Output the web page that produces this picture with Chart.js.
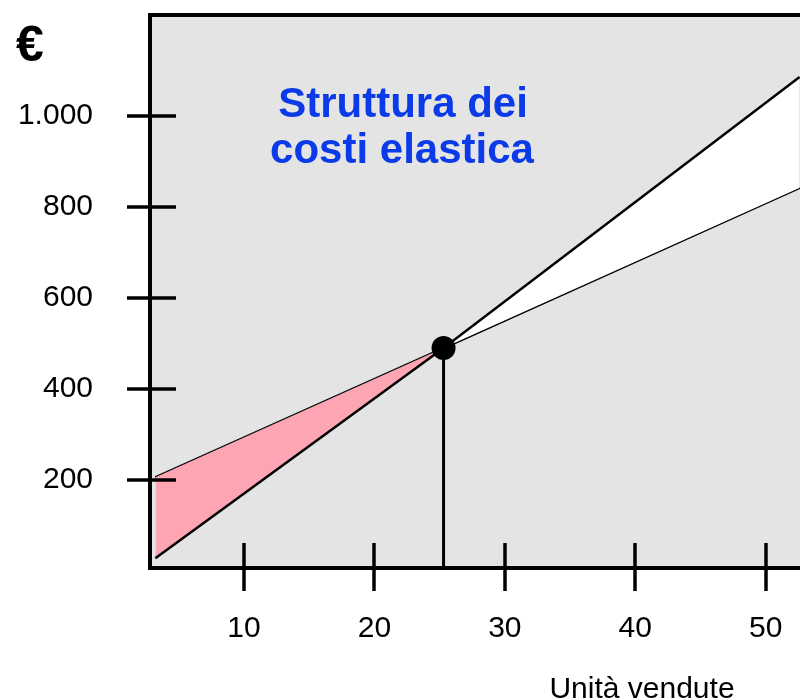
<!DOCTYPE html>
<html>
<head>
<meta charset="utf-8">
<script src="https://cdn.jsdelivr.net/npm/chart.js@4.4.1/dist/chart.umd.min.js"></script>
<style>
html,body{margin:0;padding:0;background:#fff;overflow:hidden;}
#wrap{width:800px;height:700px;position:relative;}
</style>
</head>
<body>
<div id="wrap"><canvas id="c" width="800" height="700"></canvas></div>
<script>
// Data
const unita = [3.2, 25.3, 52.6];          // units sold (x)
const ricavi = [28, 490, 1086];           // revenue line
const costi = [206, 490, 842];            // cost line
const pareggioX = 25.3;                   // break-even units
const pareggioY = 490;                    // break-even euro
const xTickValues = [10, 20, 30, 40, 50];
const yTickValues = [200, 400, 600, 800, 1000];
const xRange = [2.79, 52.63];
const yRange = [6.6, 1222];
const titleLines = ['Struttura dei', 'costi elastica'];
const xTitle = 'Unità vendute';
const yTitle = '€';

const FONT = '"Liberation Sans", Arial, sans-serif';
const PINK = '#fea5b4';
const GRAY = '#e4e4e4';

function fmt(v){ return v >= 1000 ? String(v).replace(/\B(?=(\d{3})+(?!\d))/g, '.') : String(v); }

const pts = (xs, ys) => xs.map((x, i) => ({x, y: ys[i]}));

const zeroPad = s => { s.paddingTop = 0; s.paddingBottom = 0; s.paddingLeft = 0; s.paddingRight = 0; };

const decor = {
  id: 'decor',
  beforeDraw(chart){
    const {ctx, chartArea: a} = chart;
    ctx.save();
    ctx.fillStyle = GRAY;
    ctx.fillRect(a.left, a.top, a.right - a.left, a.bottom - a.top);
    ctx.restore();
  },
  afterDraw(chart){
    const {ctx, chartArea: a, scales} = chart;
    ctx.save();
    ctx.strokeStyle = '#000';
    ctx.lineCap = 'butt';
    // frame: top, left, bottom
    ctx.lineWidth = 4;
    ctx.beginPath();
    ctx.moveTo(a.left, a.top); ctx.lineTo(a.right, a.top);
    ctx.moveTo(a.left, a.top - 2); ctx.lineTo(a.left, a.bottom + 2);
    ctx.moveTo(a.left - 2, a.bottom); ctx.lineTo(a.right, a.bottom);
    ctx.stroke();
    // tick marks crossing the axes
    ctx.lineWidth = 3.5;
    ctx.beginPath();
    scales.y.ticks.forEach(t => {
      const y = Math.round(scales.y.getPixelForValue(t.value));
      ctx.moveTo(a.left - 23, y); ctx.lineTo(a.left + 26, y);
    });
    scales.x.ticks.forEach(t => {
      const x = Math.round(scales.x.getPixelForValue(t.value));
      ctx.moveTo(x, a.bottom - 25); ctx.lineTo(x, a.bottom + 23);
    });
    ctx.stroke();
    // texts
    ctx.fillStyle = '#0b3be8';
    ctx.font = 'bold 42px ' + FONT;
    ctx.textAlign = 'center';
    ctx.textBaseline = 'alphabetic';
    ctx.fillText(titleLines[0], 403, 117);
    ctx.fillText(titleLines[1], 402, 163);
    ctx.fillStyle = '#000';
    ctx.font = '30px ' + FONT;
    ctx.fillText(xTitle, 642, 698);
    ctx.font = 'bold 50px ' + FONT;
    ctx.textAlign = 'left';
    ctx.fillText(yTitle, 16, 61);
    ctx.restore();
  }
};

new Chart(document.getElementById('c'), {
  type: 'scatter',
  data: {
    datasets: [
      { label: 'Costi', data: pts(unita, costi), showLine: true, borderColor: '#000', borderWidth: 2.5, pointRadius: 0, fill: false, order: 3 },
      { label: 'Ricavi', data: pts(unita, ricavi), showLine: true, borderColor: '#000', borderWidth: 2.5, pointRadius: 0,
        fill: { target: 0, above: '#ffffff', below: PINK }, order: 2 },
      { label: 'Pareggio', data: [{x: pareggioX, y: yRange[0]}, {x: pareggioX, y: pareggioY}], showLine: true, borderColor: '#000', borderWidth: 3, pointRadius: 0, fill: false, order: 1 },
      { label: 'Punto', data: [{x: pareggioX, y: pareggioY}], pointRadius: 12, pointHoverRadius: 12, backgroundColor: '#000', borderColor: '#000', borderWidth: 0, order: 0 }
    ]
  },
  options: {
    responsive: false,
    animation: false,
    events: [],
    layout: { autoPadding: false, padding: { top: 15, right: 0, bottom: 0, left: 0 } },
    plugins: { legend: { display: false }, tooltip: { enabled: false }, title: { display: false } },
    scales: {
      x: {
        type: 'linear', min: xRange[0], max: xRange[1],
        border: { display: false },
        grid: { display: false },
        afterBuildTicks: s => { s.ticks = xTickValues.map(v => ({value: v})); },
        afterFit: s => { s.height = 132; zeroPad(s); },
        ticks: { color: '#000', font: { family: FONT, size: 30 }, padding: 35, maxRotation: 0, autoSkip: false, callback: v => fmt(v) }
      },
      y: {
        type: 'linear', min: yRange[0], max: yRange[1],
        border: { display: false },
        grid: { display: false },
        afterBuildTicks: s => { s.ticks = yTickValues.map(v => ({value: v})); },
        afterFit: s => { s.width = 150; zeroPad(s); },
        ticks: { color: '#000', font: { family: FONT, size: 30 }, padding: 49, autoSkip: false, callback: v => fmt(v) }
      }
    }
  },
  plugins: [decor]
});
</script>
</body>
</html>
